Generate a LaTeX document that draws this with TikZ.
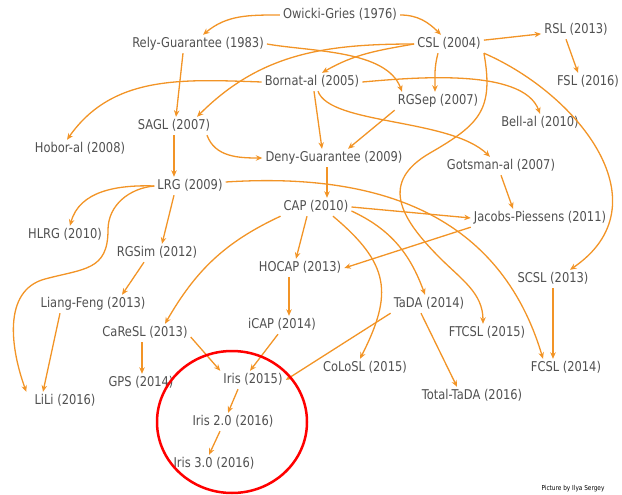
\documentclass[tikz,border=0pt]{standalone}
\usepackage{fontspec}
\newfontfamily\labelfont[FakeStretch=0.85]{DejaVu Sans}
\usetikzlibrary{arrows.meta}
\definecolor{citeorange}{RGB}{242,148,38}
\definecolor{labelgray}{RGB}{80,80,80}
\begin{document}
\begin{tikzpicture}[x=1pt,y=1pt,>={Stealth[length=6.5pt,width=5.5pt]},
	paper/.style={text=labelgray,inner sep=3pt,text height=9.5pt,text depth=2.5pt,font=\labelfont\fontsize{13.5}{15}\selectfont},
	cite/.style={->,citeorange,line width=1.3pt}]
	\useasboundingbox (0,0) rectangle (622,-495);
	\node[paper] (og) at (340,-15) {Owicki-Gries (1976)};
	\node[paper] (rg) at (198,-44) {Rely-Guarantee (1983)};
	\node[paper] (csl) at (449,-44) {CSL (2004)};
	\node[paper] (rsl) at (576,-30) {RSL (2013)};
	\node[paper] (fsl) at (588,-82) {FSL (2016)};
	\node[paper] (bornat) at (312,-82) {Bornat-al (2005)};
	\node[paper] (rgsep) at (438,-101) {RGSep (2007)};
	\node[paper] (sagl) at (174,-126) {SAGL (2007)};
	\node[paper] (bell) at (540,-123) {Bell-al (2010)};
	\node[paper] (hobor) at (80,-149) {Hobor-al (2008)};
	\node[paper] (deny) at (334,-158) {Deny-Guarantee (2009)};
	\node[paper] (gotsman) at (501,-166) {Gotsman-al (2007)};
	\node[paper] (lrg) at (190,-186) {LRG (2009)};
	\node[paper] (cap) at (316,-207) {CAP (2010)};
	\node[paper] (jp) at (540,-218) {Jacobs-Piessens (2011)};
	\node[paper] (hlrg) at (65,-235) {HLRG (2010)};
	\node[paper] (rgsim) at (157,-253) {RGSim (2012)};
	\node[paper] (hocap) at (300,-268) {HOCAP (2013)};
	\node[paper] (scsl) at (553,-279) {SCSL (2013)};
	\node[paper] (liang) at (93,-304) {Liang-Feng (2013)};
	\node[paper] (tada) at (429,-304) {TaDA (2014)};
	\node[paper] (icap) at (282,-325) {iCAP (2014)};
	\node[paper] (ftcsl) at (487,-333) {FTCSL (2015)};
	\node[paper] (caresl) at (145,-333) {CaReSL (2013)};
	\node[paper] (gps) at (141,-383) {GPS (2014)};
	\node[paper] (iris) at (253,-380) {Iris (2015)};
	\node[paper] (colosl) at (365,-368) {CoLoSL (2015)};
	\node[paper] (fcsl) at (566,-368) {FCSL (2014)};
	\node[paper] (lili) at (65,-401) {LiLi (2016)};
	\node[paper] (total) at (472,-396) {Total-TaDA (2016)};
	\node[paper] (iristwo) at (233,-422) {Iris 2.0 (2016)};
	\node[paper] (iristhree) at (214,-464) {Iris 3.0 (2016)};
	\node[font=\labelfont\fontsize{6.8}{7}\selectfont,inner sep=0pt] (credit) at (573,-489) {Picture by Ilya Sergey};
	\draw[cite] (og.west) to[out=180,in=40] ([xshift=5pt]rg.north);
	\draw[cite] (og.east) to[out=0,in=135] ([xshift=-8pt]csl.north);
	\draw[cite] (csl) -- (rsl);
	\draw[cite] ([xshift=-10pt]rsl.south) -- ([xshift=-10pt]fsl.north);
	\draw[cite] ([xshift=-11pt]csl.south) to[out=-105,in=90] ([xshift=-3pt]rgsep.north);
	\draw[cite] (csl.west) to[out=180,in=45] ([xshift=23pt]sagl.north);
	\draw[cite] (csl.west) to[out=190,in=30] ([xshift=10pt]bornat.north);
	\draw[cite] ([xshift=-15pt]rg.south) -- ([xshift=2pt]sagl.north);
	\draw[cite] (rg.east) to[out=-10,in=110,looseness=0.8] ([xshift=-36pt]rgsep.north);
	\draw[cite] (bornat.west) to[out=178,in=55] ([xshift=-13pt]hobor.north);
	\draw[cite] (bornat.east) to[out=5,in=110,looseness=0.7] (bell.north);
	\draw[cite] ([xshift=2pt]bornat.south) -- ([xshift=-12pt]deny.north);
	\draw[cite] ([xshift=6pt]bornat.south) .. controls (330,-125) and (450,-118) .. ([xshift=-11pt]gotsman.north);
	\draw[cite] (rgsep.south west) -- ([xshift=14pt]deny.north);
	\draw[cite] ([xshift=33pt]sagl.south) to[out=-70,in=180] (deny.west);
	\draw[cite] (sagl.south) -- (sagl.south |- lrg.north);
	\draw[cite] ([xshift=-7pt]deny.south) -- ([xshift=11pt]cap.north);
	\draw[cite] (lrg.west) to[out=178,in=75] ([xshift=5pt]hlrg.north);
	\draw[cite] (lrg.west) to[out=185,in=90] (108,-230) to[out=-90,in=15,looseness=1.3] (45,-279)
		to[out=195,in=110] ([xshift=-5pt]lili.north west);
	\draw[cite] ([xshift=-16pt]lrg.south) -- ([xshift=5pt]rgsim.north);
	\draw[cite] ([yshift=4pt]lrg.east) .. controls (380,-172) and (500,-215) .. ([xshift=-23pt]fcsl.north);
	\draw[cite] (csl.south east) .. controls (580,-95) and (665,-205) .. ([xshift=17pt]scsl.north);
	\draw[cite] (csl.south east) to[out=-80,in=30,looseness=1.3] (430,-153) to[out=210,in=135,looseness=1.4] (440,-258)
		to[out=-45,in=90] ([xshift=-4pt]ftcsl.north);
	\draw[cite] (cap.east) -- (jp.west);
	\draw[cite] (jp.south west) -- (hocap.east);
	\draw[cite] ([xshift=-9pt]cap.south) -- ([xshift=-4pt]hocap.north);
	\draw[cite] (cap.south west) to[out=205,in=60] ([xshift=20pt]caresl.north);
	\draw[cite] ([xshift=17pt]cap.south) to[out=-40,in=63,looseness=1.3] ([xshift=-5pt]colosl.north);
	\draw[cite] ([yshift=-4pt]cap.east) to[out=-25,in=110] ([xshift=-4pt]tada.north);
	\draw[cite] (gotsman.south) -- ([xshift=-27pt]jp.north);
	\draw[cite] ([xshift=-11pt]hocap.south) -- ([xshift=7pt]icap.north);
	\draw[cite] (tada.south west) -- (iris.east);
	\draw[cite] ([xshift=-8pt]tada.south) -- ([xshift=-15pt]total.north);
	\draw[cite] (scsl) -- (scsl |- fcsl.north);
	\draw[cite] ([xshift=-13pt]rgsim.south) -- ([xshift=29pt]liang.north);
	\draw[cite] ([xshift=-33pt]liang.south) -- ([xshift=-22pt]lili.north);
	\draw[cite] ([xshift=-3pt]caresl.south) -- ([xshift=1pt]gps.north);
	\draw[cite] ([yshift=-4pt]caresl.east) -- (iris.north west);
	\draw[cite] ([xshift=-4pt]icap.south) -- ([xshift=-3pt]iris.north);
	\draw[cite] ([xshift=-15pt]iris.south) -- ([xshift=-5pt]iristwo.north);
	\draw[cite] ([xshift=-13pt]iristwo.south) -- ([xshift=-5pt]iristhree.north);
	\draw[red,line width=2.5pt] (232,-422) ellipse (75 and 71);
\end{tikzpicture}
\end{document}
